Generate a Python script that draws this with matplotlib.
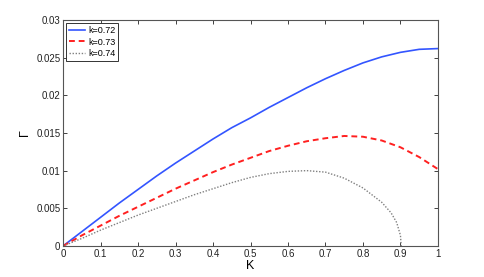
import matplotlib
matplotlib.use("Agg")
import matplotlib.pyplot as plt

# values
K_a = [0, 0.05, 0.1, 0.15, 0.2, 0.25, 0.3, 0.35, 0.4, 0.45, 0.5,
       0.55, 0.6, 0.65, 0.7, 0.75, 0.8, 0.85, 0.9, 0.95, 1.0]
gamma_072 = [0, 0.0019, 0.0038, 0.0057, 0.0075, 0.0093, 0.0110, 0.0126, 0.0142, 0.0157, 0.0170,
             0.0184, 0.0197, 0.0210, 0.0222, 0.0233, 0.0243, 0.0251, 0.0257, 0.0261, 0.0262]
gamma_073 = [0, 0.0014, 0.0027, 0.0040, 0.0052, 0.0064, 0.0076, 0.0087, 0.0098, 0.0108, 0.0117,
             0.0126, 0.0133, 0.0139, 0.0143, 0.0146, 0.0145, 0.0140, 0.0131, 0.0118, 0.0102]

K_b = [0, 0.05, 0.1, 0.15, 0.2, 0.25, 0.3, 0.35, 0.4, 0.45, 0.5,
       0.55, 0.6, 0.65, 0.7, 0.75, 0.8, 0.85, 0.875, 0.89, 0.9, 0.902]
gamma_074 = [0, 0.0010, 0.0021, 0.0031, 0.0041, 0.0050, 0.0059, 0.0068, 0.0076, 0.0084, 0.0091,
             0.0096, 0.0099, 0.0100, 0.0098, 0.0090, 0.0077, 0.0058, 0.0044, 0.0031, 0.0014, 0]

labels = ["k=0.72", "k=0.73", "k=0.74"]
xticks = [0, 0.1, 0.2, 0.3, 0.4, 0.5, 0.6, 0.7, 0.8, 0.9, 1]
xticklabels = ["0", "0.1", "0.2", "0.3", "0.4", "0.5", "0.6", "0.7", "0.8", "0.9", "1"]
yticks = [0, 0.005, 0.01, 0.015, 0.02, 0.025, 0.03]
yticklabels = ["0", "0.005", "0.01", "0.015", "0.02", "0.025", "0.03"]

plt.rcParams['font.family'] = ['Liberation Sans', 'DejaVu Sans']

fig = plt.figure(figsize=(4.85, 2.77), dpi=100)
ax = fig.add_axes([0.130, 0.112, 0.773, 0.816])

ax.plot(K_a, gamma_072, color='#3355ff', lw=1.2, label=labels[0])
ax.plot(K_a, gamma_073, color='#ff2020', lw=1.4, ls=(0, (3, 2)), label=labels[1])
ax.plot(K_b, gamma_074, color='#808080', lw=1.0, ls=(0, (1, 1.2)), label=labels[2])

ax.set_xlim(0, 1)
ax.set_ylim(0, 0.03)
ax.set_xticks(xticks)
ax.set_xticklabels(xticklabels)
ax.set_yticks(yticks)
ax.set_yticklabels(yticklabels)
ax.tick_params(direction='in', length=3, width=0.6, labelsize=7, colors='#222222',
               top=True, right=True, pad=2)
for s in ax.spines.values():
    s.set_color('#555555')
    s.set_linewidth(0.8)

ax.set_xlabel("K", fontsize=9, labelpad=1)
ax.set_ylabel("Γ", fontsize=9, labelpad=4)

leg = ax.legend(loc='upper left', fontsize=6.5, fancybox=False, framealpha=1,
                edgecolor='#333333', handlelength=1.8, handletextpad=0.3,
                borderpad=0.35, labelspacing=0.3, borderaxespad=0.3)
leg.get_frame().set_linewidth(0.7)

fig.savefig("out.png", dpi=100)
